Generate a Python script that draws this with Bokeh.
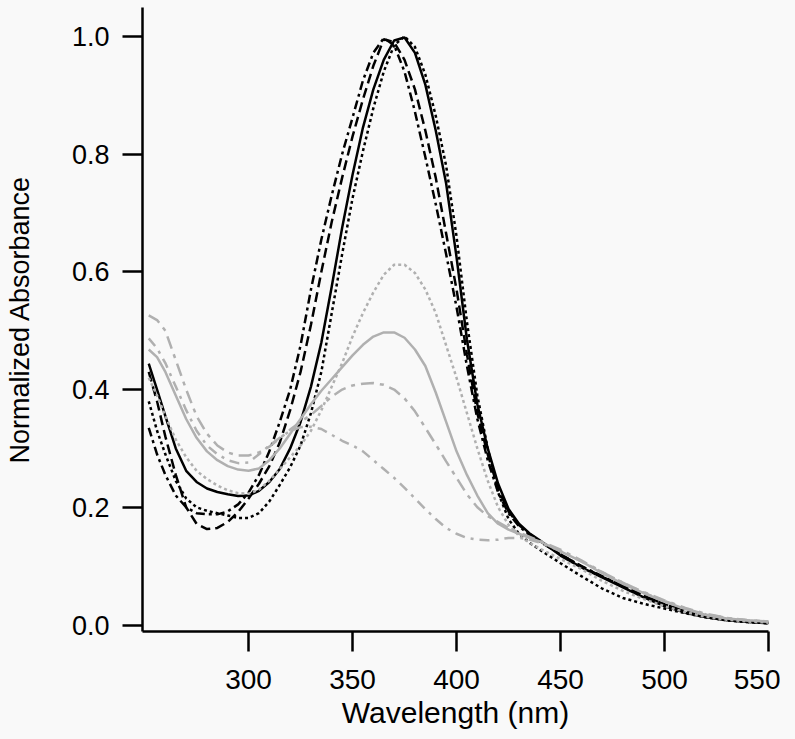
from bokeh.plotting import figure
from bokeh.models import Range1d, FixedTicker, PrintfTickFormatter
from bokeh.embed import file_html
from bokeh.resources import INLINE

# wavelength grid (nm)
wl = [252, 256, 260, 265, 270, 275, 280, 285, 290, 295, 300, 305, 310, 315, 320,
      325, 330, 335, 340, 345, 350, 355, 360, 365, 370, 375, 380, 385, 390, 395,
      400, 405, 410, 415, 420, 425, 430, 435, 440, 450, 460, 470, 480, 490, 500,
      510, 520, 530, 540, 550]

black_solid = [0.444, 0.40, 0.355, 0.30, 0.262, 0.243, 0.232, 0.226, 0.222, 0.219,
               0.220, 0.228, 0.243, 0.265, 0.30, 0.345, 0.405, 0.48, 0.575, 0.675,
               0.765, 0.845, 0.91, 0.96, 0.993, 0.998, 0.972, 0.918, 0.84, 0.75,
               0.625, 0.485, 0.375, 0.30, 0.24, 0.197, 0.172, 0.156, 0.144,
               0.118, 0.098, 0.081, 0.064, 0.047, 0.032, 0.021, 0.013, 0.008, 0.005, 0.003]

black_dotted = [0.38, 0.33, 0.29, 0.245, 0.215, 0.2, 0.194, 0.19, 0.186, 0.182,
                0.182, 0.19, 0.21, 0.238, 0.268, 0.305, 0.36, 0.43, 0.53, 0.63,
                0.725, 0.805, 0.878, 0.94, 0.985, 1.0, 0.982, 0.935, 0.865, 0.78,
                0.66, 0.515, 0.39, 0.30, 0.225, 0.18, 0.155, 0.14, 0.128,
                0.105, 0.083, 0.062, 0.046, 0.036, 0.028, 0.02, 0.013, 0.008, 0.005, 0.003]

black_dash = [0.43, 0.38, 0.32, 0.255, 0.2, 0.172, 0.163, 0.165, 0.175, 0.192,
              0.215, 0.24, 0.27, 0.31, 0.365, 0.43, 0.51, 0.60, 0.685, 0.76,
              0.83, 0.893, 0.95, 0.995, 0.99, 0.96, 0.91, 0.84, 0.76, 0.665,
              0.57, 0.46, 0.36, 0.29, 0.232, 0.193, 0.17, 0.155, 0.143,
              0.12, 0.1, 0.082, 0.066, 0.05, 0.035, 0.023, 0.014, 0.009, 0.006, 0.004]

black_dashdot = [0.335, 0.29, 0.255, 0.22, 0.2, 0.19, 0.188, 0.188, 0.193, 0.205,
                 0.225, 0.255, 0.295, 0.345, 0.40, 0.475, 0.57, 0.655, 0.73, 0.80,
                 0.862, 0.925, 0.972, 0.997, 0.985, 0.94, 0.872, 0.795, 0.715, 0.63,
                 0.54, 0.44, 0.35, 0.28, 0.225, 0.19, 0.168, 0.153, 0.142,
                 0.12, 0.1, 0.083, 0.066, 0.05, 0.035, 0.024, 0.015, 0.009, 0.006, 0.004]

gray_solid = [0.468, 0.455, 0.43, 0.39, 0.35, 0.318, 0.295, 0.28, 0.27, 0.264,
              0.262, 0.266, 0.28, 0.3, 0.325, 0.35, 0.375, 0.398, 0.418, 0.438,
              0.458, 0.476, 0.49, 0.497, 0.497, 0.488, 0.468, 0.44, 0.395, 0.345,
              0.295, 0.255, 0.22, 0.19, 0.172, 0.162, 0.155, 0.148, 0.142,
              0.125, 0.108, 0.088, 0.07, 0.054, 0.04, 0.027, 0.017, 0.011, 0.008, 0.006]

gray_dotted = [0.42, 0.39, 0.355, 0.315, 0.285, 0.262, 0.248, 0.237, 0.229, 0.224,
               0.223, 0.23, 0.245, 0.265, 0.285, 0.305, 0.33, 0.365, 0.405, 0.445,
               0.49, 0.53, 0.565, 0.595, 0.612, 0.612, 0.598, 0.57, 0.53, 0.475,
               0.42, 0.36, 0.30, 0.245, 0.2, 0.17, 0.152, 0.14, 0.13,
               0.112, 0.095, 0.075, 0.058, 0.044, 0.032, 0.022, 0.014, 0.009, 0.006, 0.004]

gray_dash = [0.526, 0.518, 0.5, 0.45, 0.4, 0.355, 0.325, 0.305, 0.293, 0.288,
             0.288, 0.293, 0.303, 0.317, 0.332, 0.345, 0.357, 0.372, 0.388, 0.4,
             0.407, 0.41, 0.411, 0.408, 0.4, 0.385, 0.363, 0.335, 0.307, 0.278,
             0.25, 0.222, 0.2, 0.185, 0.175, 0.165, 0.157, 0.15, 0.143,
             0.128, 0.11, 0.09, 0.072, 0.056, 0.042, 0.029, 0.019, 0.012, 0.008, 0.006]

gray_dashdot = [0.487, 0.47, 0.445, 0.405, 0.365, 0.33, 0.305, 0.29, 0.28, 0.275,
                0.276, 0.29, 0.305, 0.318, 0.33, 0.336, 0.337, 0.333, 0.323, 0.313,
                0.305, 0.295, 0.28, 0.265, 0.25, 0.233, 0.215, 0.197, 0.18, 0.165,
                0.155, 0.148, 0.145, 0.144, 0.145, 0.148, 0.148, 0.145, 0.14,
                0.126, 0.108, 0.09, 0.072, 0.055, 0.041, 0.028, 0.018, 0.012, 0.008, 0.006]

x_ticks = [300, 350, 400, 450, 500, 550]
y_ticks = [0.0, 0.2, 0.4, 0.6, 0.8, 1.0]

BG = "#f9f9f9"
GRAY = "#b0b0b0"
FONT = "Liberation Sans"

p = figure(width=780, height=735, title=None,
           x_range=Range1d(249, 550), y_range=Range1d(-0.011, 1.049),
           output_backend="svg", toolbar_location=None,
           min_border_left=142, min_border_right=12,
           min_border_top=7, min_border_bottom=104,
           background_fill_color=BG, border_fill_color=BG,
           outline_line_color=None)
p.xgrid.visible = False
p.ygrid.visible = False

for ax in (p.xaxis[0], p.yaxis[0]):
    ax.axis_line_width = 2.5
    ax.axis_line_color = "black"
    ax.major_tick_line_width = 2.5
    ax.major_tick_line_color = "black"
    ax.major_tick_out = 20
    ax.major_tick_in = 0
    ax.minor_tick_out = 0
    ax.minor_tick_in = 0
    ax.major_label_text_font = FONT
    ax.major_label_text_color = "black"
    ax.axis_label_text_font = FONT
    ax.axis_label_text_font_style = "normal"
    ax.axis_label_text_color = "black"

p.xaxis[0].ticker = FixedTicker(ticks=x_ticks)
p.xaxis[0].major_label_text_font_size = "28px"
p.xaxis[0].major_label_standoff = 18
p.xaxis[0].axis_label = "Wavelength (nm)"
p.xaxis[0].axis_label_text_font_size = "30px"
p.xaxis[0].axis_label_standoff = 4

p.yaxis[0].ticker = FixedTicker(ticks=y_ticks)
p.yaxis[0].formatter = PrintfTickFormatter(format="%.1f")
p.yaxis[0].major_label_text_font_size = "27px"
p.yaxis[0].major_label_standoff = 13
p.yaxis[0].axis_label = "Normalized Absorbance"
p.yaxis[0].axis_label_text_font_size = "27px"
p.yaxis[0].axis_label_standoff = 34

W = 2.5
p.line(wl, black_solid, line_color="black", line_width=W)
p.line(wl, black_dotted, line_color="black", line_width=W, line_dash="3 3")
p.line(wl, black_dash, line_color="black", line_width=W, line_dash="10 5")
p.line(wl, black_dashdot, line_color="black", line_width=W, line_dash="9 4 3 4")
p.line(wl, gray_solid, line_color=GRAY, line_width=W)
p.line(wl, gray_dotted, line_color=GRAY, line_width=W, line_dash="3 3")
p.line(wl, gray_dash, line_color=GRAY, line_width=W, line_dash="13 6 4 6")
p.line(wl, gray_dashdot, line_color=GRAY, line_width=W, line_dash="10 6 3 6")

html = file_html(p, INLINE)
html = html.replace("<body>", '<body style="background-color:#f9f9f9;">')
open("out.html", "w").write(html)
